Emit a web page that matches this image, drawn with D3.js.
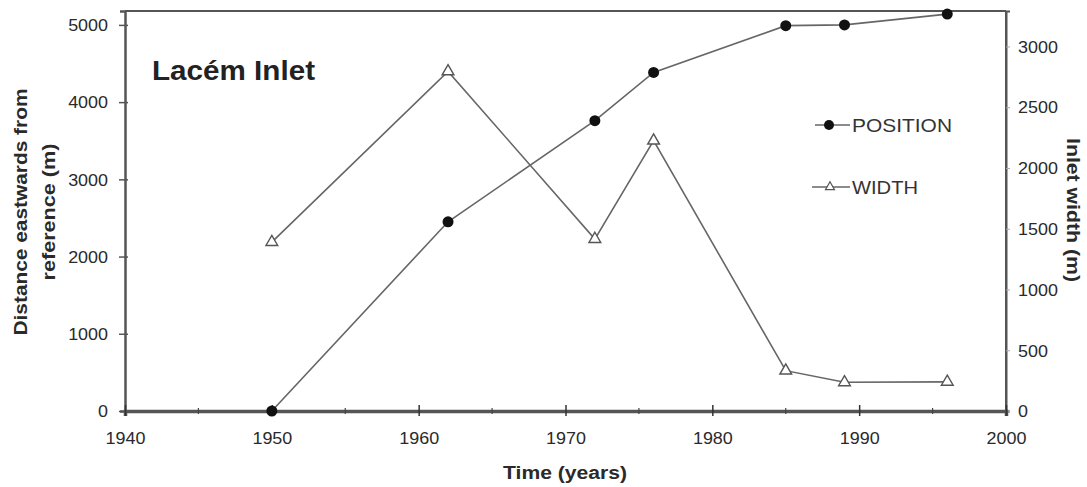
<!DOCTYPE html>
<html>
<head>
<meta charset="utf-8">
<script src="https://cdn.jsdelivr.net/npm/d3@7"></script>
<style>
  html, body { margin: 0; padding: 0; background: #fff; }
  svg { display: block; font-family: Arial, "Liberation Sans", sans-serif; }
</style>
</head>
<body>
<svg id="chart" width="1087" height="487"></svg>
<script>
// ---- data ----
const years = [1950, 1962, 1972, 1976, 1985, 1989, 1996];
const position = [0, 2450, 3760, 4385, 4990, 5000, 5140];
const width = [1390, 2795, 1415, 2225, 332, 236, 240];
const xTicks = [1940, 1950, 1960, 1970, 1980, 1990, 2000];
const xMinorTicks = [1945, 1955, 1965, 1975, 1985, 1995];
const leftTicks = [0, 1000, 2000, 3000, 4000, 5000];
const rightTicks = [0, 500, 1000, 1500, 2000, 2500, 3000];
const seriesNames = ["POSITION", "WIDTH"];

const svg = d3.select("#chart");
const L = 125, R = 1006, T = 11, B = 411;

const x = d3.scaleLinear().domain([1940, 2000]).range([L, R]);
const yL = d3.scaleLinear().domain([0, 5180]).range([B, T]);
const yR = d3.scaleLinear().domain([0, 3292]).range([B, T]);

const axisColor = "#555";
const textColor = "#2a2a2a";

function stretch(sel, f) {
  sel.each(function () {
    const w = this.getComputedTextLength();
    d3.select(this).attr("textLength", w * f).attr("lengthAdjust", "spacingAndGlyphs");
  });
}

// frame top and right
svg.append("line").attr("x1", L).attr("x2", R).attr("y1", T).attr("y2", T)
  .attr("stroke", axisColor).attr("stroke-width", 2);
svg.append("line").attr("x1", R).attr("x2", R).attr("y1", T).attr("y2", B)
  .attr("stroke", axisColor).attr("stroke-width", 2);

// left axis
const gL = svg.append("g").attr("transform", `translate(${L},0)`)
  .call(d3.axisLeft(yL).tickValues(leftTicks).tickSize(5).tickPadding(12).tickFormat(d3.format("d")));
gL.select(".domain").attr("stroke", axisColor).attr("stroke-width", 2.5);
gL.selectAll(".tick line").attr("stroke", axisColor).attr("stroke-width", 1.5).attr("x2", -6).attr("x1", 3);
gL.selectAll(".tick text").attr("font-size", 16).attr("fill", textColor).attr("dy", "0.36em")
  .attr("font-family", "Arial, 'Liberation Sans', sans-serif");
stretch(gL.selectAll(".tick text"), 1.12);

// right axis
const gR = svg.append("g").attr("transform", `translate(${R},0)`)
  .call(d3.axisRight(yR).tickValues(rightTicks).tickSize(4).tickPadding(8).tickFormat(d3.format("d")));
gR.select(".domain").attr("stroke", axisColor).attr("stroke-width", 2);
gR.selectAll(".tick line").attr("stroke", "#aaa").attr("stroke-width", 1);
gR.selectAll(".tick text").attr("font-size", 16).attr("fill", textColor).attr("dy", "0.36em")
  .attr("font-family", "Arial, 'Liberation Sans', sans-serif");
stretch(gR.selectAll(".tick text"), 1.12);

// bottom axis
const gB = svg.append("g").attr("transform", `translate(0,${B})`)
  .call(d3.axisBottom(x).tickValues(xTicks).tickSize(5).tickPadding(17).tickFormat(d3.format("d")));
gB.select(".domain").attr("stroke", axisColor).attr("stroke-width", 3.5);
gB.selectAll(".tick line").attr("stroke", "#333").attr("stroke-width", 1.5).attr("y1", -6);
gB.selectAll(".tick text").attr("font-size", 16).attr("fill", textColor)
  .attr("font-family", "Arial, 'Liberation Sans', sans-serif");
stretch(gB.selectAll(".tick text"), 1.12);
// minor ticks
svg.append("g").selectAll("line").data(xMinorTicks).join("line")
  .attr("x1", d => x(d)).attr("x2", d => x(d)).attr("y1", B - 3).attr("y2", B + 3)
  .attr("stroke", "#444").attr("stroke-width", 1.2);

// axis titles
const titles = svg.append("g").attr("font-size", 18).attr("font-weight", "bold").attr("fill", textColor);
titles.append("text").attr("x", 565).attr("y", 479).attr("text-anchor", "middle")
  .attr("textLength", 124).attr("lengthAdjust", "spacingAndGlyphs").text("Time (years)");
titles.append("text").attr("transform", "translate(27,212) rotate(-90)").attr("text-anchor", "middle")
  .attr("textLength", 247).attr("lengthAdjust", "spacingAndGlyphs").text("Distance eastwards from");
titles.append("text").attr("transform", "translate(55,212) rotate(-90)").attr("text-anchor", "middle")
  .attr("textLength", 137).attr("lengthAdjust", "spacingAndGlyphs").text("reference (m)");
titles.append("text").attr("transform", "translate(1067,210) rotate(90)").attr("text-anchor", "middle")
  .attr("textLength", 144).attr("lengthAdjust", "spacingAndGlyphs").text("Inlet width (m)");

// title
svg.append("text").attr("x", 152).attr("y", 80).attr("font-size", 28).attr("font-weight", "bold")
  .attr("fill", "#222").attr("textLength", 163).attr("lengthAdjust", "spacingAndGlyphs").text("Lacém Inlet");

// lines
const lineColor = "#666";
const posData = years.map((yr, i) => [yr, position[i]]);
const widData = years.map((yr, i) => [yr, width[i]]);

svg.append("path").datum(posData)
  .attr("d", d3.line().x(d => x(d[0])).y(d => yL(d[1])))
  .attr("fill", "none").attr("stroke", lineColor).attr("stroke-width", 1.6);
svg.append("path").datum(widData)
  .attr("d", d3.line().x(d => x(d[0])).y(d => yR(d[1])))
  .attr("fill", "none").attr("stroke", lineColor).attr("stroke-width", 1.6);

const tri = d3.symbol().type(d3.symbolTriangle).size(60);
svg.append("g").selectAll("path").data(widData).join("path")
  .attr("d", tri).attr("transform", d => `translate(${x(d[0])},${yR(d[1])})`)
  .attr("fill", "#fff").attr("stroke", "#555").attr("stroke-width", 1.4);
svg.append("g").selectAll("circle").data(posData).join("circle")
  .attr("cx", d => x(d[0])).attr("cy", d => yL(d[1])).attr("r", 5.5)
  .attr("fill", "#111");

// legend
const lg = svg.append("g");
lg.append("line").attr("x1", 815).attr("x2", 850).attr("y1", 125).attr("y2", 125)
  .attr("stroke", lineColor).attr("stroke-width", 1.5);
lg.append("circle").attr("cx", 829).attr("cy", 125).attr("r", 5).attr("fill", "#111");
lg.append("text").attr("x", 852).attr("y", 132).attr("font-size", 18).attr("fill", "#333")
  .attr("textLength", 100).attr("lengthAdjust", "spacingAndGlyphs").text(seriesNames[0]);
lg.append("line").attr("x1", 812).attr("x2", 850).attr("y1", 187).attr("y2", 187)
  .attr("stroke", lineColor).attr("stroke-width", 1.5);
lg.append("path").attr("d", d3.symbol().type(d3.symbolTriangle).size(35))
  .attr("transform", "translate(830,187)").attr("fill", "#fff").attr("stroke", "#555").attr("stroke-width", 1.2);
lg.append("text").attr("x", 852).attr("y", 194).attr("font-size", 18).attr("fill", "#333")
  .attr("textLength", 66).attr("lengthAdjust", "spacingAndGlyphs").text(seriesNames[1]);
</script>
</body>
</html>
